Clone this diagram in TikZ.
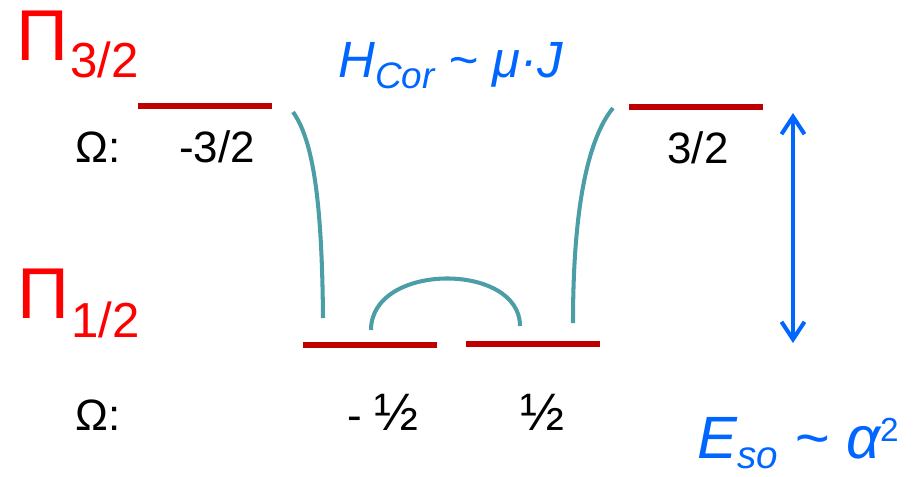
\documentclass[tikz,border=0pt]{standalone}
\usepackage{fontspec}
\setmainfont{Liberation Sans}
\usetikzlibrary{arrows.meta}
\definecolor{levelred}{RGB}{192,0,0}
\definecolor{termred}{RGB}{255,0,0}
\definecolor{coupling}{RGB}{75,158,165}
\definecolor{sbblue}{RGB}{0,102,255}
\tikzset{
  level/.style={levelred, line width=3pt},
  mix/.style={coupling, line width=2.3pt},
  term/.style={text=termred, inner sep=0pt, anchor=base west},
  omega/.style={inner sep=0pt, anchor=base, font=\fontsize{25}{30}\selectfont},
  eq/.style={text=sbblue, inner sep=0pt, anchor=base west},
  split/.style={sbblue, line width=2.3pt,
    {Straight Barb[length=3.5mm,width=4.6mm]}-{Straight Barb[length=3.5mm,width=4.6mm]}}
}
\begin{document}
\begin{tikzpicture}[x=0.02cm, y=-0.02cm]
  \useasboundingbox (0,0) rectangle (917,477);
  % term labels
  \node[term] (pi32) at (16,60) {\fontsize{41}{48}\selectfont Π\kern1pt\raisebox{-0.36cm}{\fontsize{28}{32}\selectfont 3/2}};
  \node[term] (pi12) at (17,318) {\fontsize{41}{48}\selectfont Π\kern1pt\raisebox{-0.38cm}{\fontsize{28}{32}\selectfont 1/2}};
  \node[eq] (hcor) at (338,77) {\fontsize{29}{34}\selectfont\itshape H\raisebox{-0.22cm}{\fontsize{21}{25}\selectfont Cor} \textasciitilde{} μ·J};
  \node[eq] (eso) at (697,458) {\fontsize{34}{40}\selectfont\itshape E\raisebox{-0.2cm}{\fontsize{22}{26}\selectfont so} \textasciitilde{} α\raisebox{0.34cm}{\fontsize{19}{22}\selectfont\upshape 2}};
  % level end points
  \coordinate (l1a) at (138,106);
  \coordinate (l1b) at (272,106);
  \coordinate (l2a) at (629,107);
  \coordinate (l2b) at (763,107);
  \coordinate (l3a) at (303,345);
  \coordinate (l3b) at (437,345);
  \coordinate (l4a) at (466,344);
  \coordinate (l4b) at (600,344);
  \draw[level] (l1a) -- (l1b);
  \draw[level] (l2a) -- (l2b);
  \draw[level] (l3a) -- (l3b);
  \draw[level] (l4a) -- (l4b);
  % Omega values
  \node[omega] (om1) at (98,162) {Ω:};
  \node[omega] (om2) at (98,430) {Ω:};
  \node[omega] (w1) at (217,162) {-3/2};
  \node[omega] (w2) at (698,163) {3/2};
  \node[omega] (w3) at (383,430) {- {\fontsize{30}{36}\selectfont ½}};
  \node[omega] (w4) at (542,430) {\fontsize{30}{36}\selectfont ½};
  % coupling curves
  \coordinate (c1a) at (293,112);
  \coordinate (c1b) at (323,318);
  \coordinate (c2a) at (613,108);
  \coordinate (c2b) at (573,323);
  \coordinate (c3a) at (371,330);
  \coordinate (c3b) at (520,326);
  \draw[mix] (c1a) .. controls (313,140) and (322,200) .. (c1b);
  \draw[mix] (c2a) .. controls (590,136) and (573,200) .. (c2b);
  \draw[mix] (c3a) .. controls (371,262) and (520,262) .. (c3b);
  % splitting
  \coordinate (s1) at (793,113);
  \coordinate (s2) at (793,343);
  \draw[split] (s1) -- (s2);
\end{tikzpicture}
\end{document}
